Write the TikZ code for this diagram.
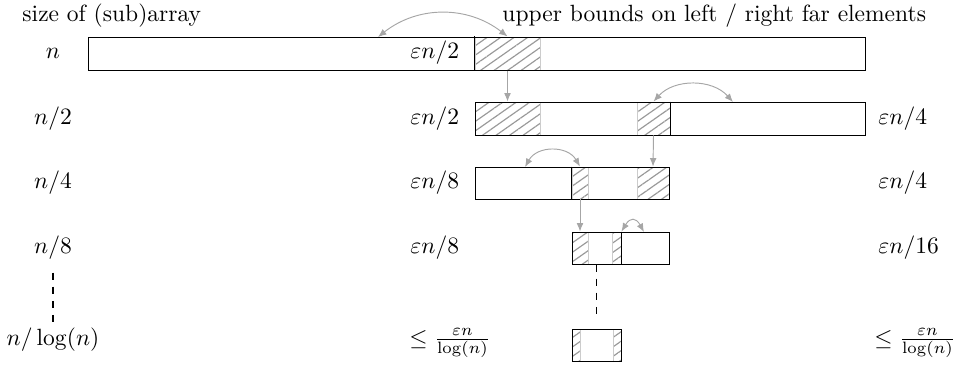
\documentclass[tikz,border=0pt]{standalone}
\usepackage{tikz}
\usetikzlibrary{arrows,arrows.meta,fit,positioning,patterns.meta}

\begin{document}
\begin{tikzpicture}[x=0.4255pt, y=-0.4255pt]
% STYLES
\tikzset{%
    arr/.style={rectangle, draw, inner sep=0pt},
    far/.style={%
        rectangle, draw=black!20, inner sep=0pt,
        pattern={Lines[angle=35,distance=3.3pt,line width=0.5pt]},
        pattern color=black!40
    },
    lbl/.style={inner sep=0pt, anchor=base},
    move/.style={{Latex[length=3.6pt,width=2.9pt]}-{Latex[length=3.6pt,width=2.9pt]}, black!35},
    down/.style={-{Latex[length=3.6pt,width=2.9pt]}, black!35}
}
\useasboundingbox (0,0) rectangle (955,369);
% Headings
\node [lbl, anchor=base west] (head1) at (22,21) {size of (sub)array};
\node [lbl, anchor=base west] (head2) at (502,21) {upper bounds on left / right far elements};
% Sizes
\node [lbl] (l1) at (53,58.5) {$n$};
\node [lbl] (l2) at (53,124) {$n/2$};
\node [lbl] (l3) at (53,188.5) {$n/4$};
\node [lbl] (l4) at (53,253.5) {$n/8$};
\node [lbl] (l5) at (53,345) {$n/\log(n)$};
% Bounds on the left
\node [lbl, anchor=base west] (m1) at (410,58.5) {$\varepsilon n/2$};
\node [lbl, anchor=base west] (m2) at (410,124) {$\varepsilon n/2$};
\node [lbl, anchor=base west] (m3) at (410,188.5) {$\varepsilon n/8$};
\node [lbl, anchor=base west] (m4) at (410,253.5) {$\varepsilon n/8$};
\node [lbl, anchor=base west] (m5) at (409,345) {$\leq \frac{\varepsilon n}{\log(n)}$};
% Bounds on the right
\node [lbl, anchor=base west] (r2) at (878,124) {$\varepsilon n/4$};
\node [lbl, anchor=base west] (r3) at (878,188.5) {$\varepsilon n/4$};
\node [lbl, anchor=base west] (r4) at (878,253.5) {$\varepsilon n/16$};
\node [lbl, anchor=base west] (r5) at (874,345) {$\leq \frac{\varepsilon n}{\log(n)}$};
% Draw far elements
\node [far, fit={(475,37) (540,70)}] (h1) {};
\node [far, fit={(475,102) (540,135)}] (h2l) {};
\node [far, fit={(637,102) (670,135)}] (h2r) {};
\node [far, fit={(572,167) (588,199)}] (h3l) {};
\node [far, fit={(637,167) (669,199)}] (h3r) {};
\node [far, fit={(572,232) (588,264)}] (h4l) {};
\node [far, fit={(612,232) (621,264)}] (h4r) {};
\node [far, fit={(572,329) (580,361)}] (h5l) {};
\node [far, fit={(613,329) (621,361)}] (h5r) {};
% Draw arrays
\node [arr, fit={(88,37) (865,70)}] (a1) {};
\node [arr, fit={(475,102) (865,135)}] (a2) {};
\node [arr, fit={(475,167) (669,199)}] (a3) {};
\node [arr, fit={(572,232) (669,264)}] (a4) {};
\node [arr, fit={(572,329) (621,361)}] (a5) {};
\draw (h1.north west) -- (h1.south west);
\draw (h2r.north east) -- (h2r.south east);
\draw (h3l.north west) -- (h3l.south west);
\draw (h4r.north east) -- (h4r.south east);
% Draw the swaps and recursions
\coordinate (c1) at (378,37);
\coordinate (c2) at (733,102);
\coordinate (c3) at (525,167);
\coordinate (c4) at (644,232);
\draw[move] (c1) to[bend left=38] (h1.north);
\draw[move] (h2r.north) to[bend left=48] (c2);
\draw[move] (c3) to[bend left=60, looseness=1.15] (h3l.north);
\draw[move] (h4r.north east) to[bend left=60, looseness=1.9] (c4);
\draw[down] (h1.south) -- (h2l.north);
\draw[down] (h2r.south) -- (h3r.north);
\draw[down] (h3l.south) -- (h4l.north);
% Dots
\draw[dashed, thick, shorten <=5.4pt] (l4.south) -- (l5.north);
\draw[dashed, thick, shorten >=3.4pt] (a5.north |- a4.south) -- (a5.north);
\end{tikzpicture}
\end{document}
